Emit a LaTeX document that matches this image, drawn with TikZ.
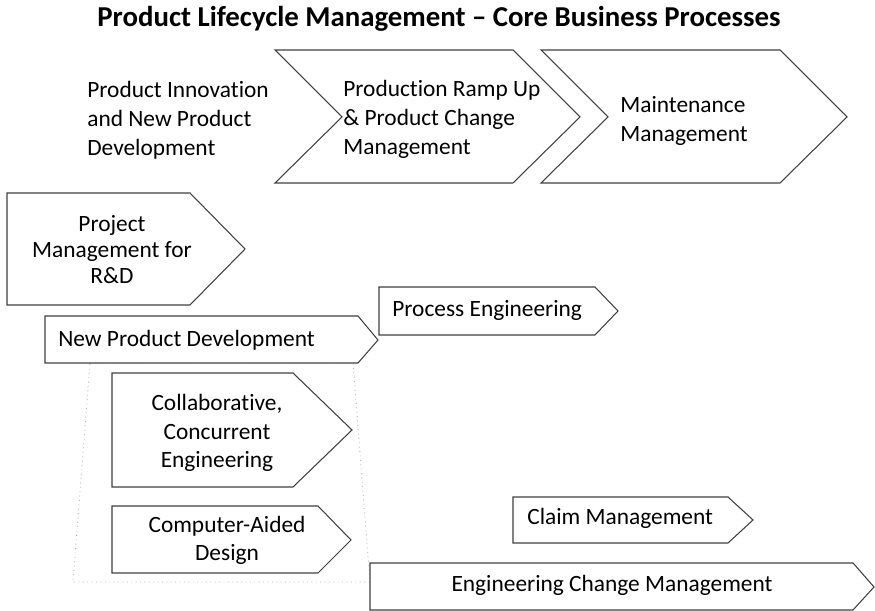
\documentclass[tikz,border=0pt]{standalone}
\usepackage{fontspec}
\setmainfont{Carlito}[Ligatures=NoCommon]
\usepackage{tikz}

\tikzset{
	shp/.style={draw=black!75, fill=white, line width=0.6pt, line join=miter},
	txt/.style={inner sep=0pt, font=\fontsize{13.3pt}{16pt}\selectfont},
	frame/.style={draw=black!30, dotted, line width=0.5pt}
}

\begin{document}
\begin{tikzpicture}
	\useasboundingbox (0,0) rectangle (17.5,12.22);
	% title
	\node [inner sep=0pt, font=\fontsize{16.4pt}{19pt}\selectfont\bfseries] (title) at (8.78,11.85) {Product Lifecycle Management -- Core Business Processes};
	% top row
	\draw [shp] (5.50,11.22) -- (10.26,11.22) -- (11.60,9.88) -- (10.26,8.56) -- (5.50,8.56) -- (6.84,9.88) -- cycle;
	\draw [shp] (10.82,11.22) -- (15.60,11.22) -- (16.94,9.88) -- (15.60,8.56) -- (10.82,8.56) -- (12.16,9.88) -- cycle;
	\node [txt, anchor=west, align=left, font=\fontsize{13.3pt}{16.6pt}\selectfont] (innov) at (1.74,9.82) {Product Innovation\\and New Product\\Development};
	\node [txt, anchor=west, align=left, font=\fontsize{13.3pt}{16.6pt}\selectfont] (rampup) at (6.86,9.83) {Production Ramp Up\\\& Product Change\\Management};
	\node [txt, anchor=west, align=left] (maint) at (12.40,9.80) {Maintenance\\Management};
	% dotted frame behind the sub processes
	\draw [frame] (1.80,4.96) -- (7.06,4.96) -- (7.40,0.58) -- (1.46,0.58) -- cycle;
	% process boxes
	\draw [shp] (0.14,8.36) -- (3.80,8.36) -- (4.90,7.24) -- (3.80,6.12) -- (0.14,6.12) -- cycle;
	\draw [shp] (0.90,5.90) -- (7.16,5.90) -- (7.56,5.42) -- (7.16,4.96) -- (0.90,4.96) -- cycle;
	\draw [shp] (7.58,6.48) -- (11.90,6.48) -- (12.36,6.00) -- (11.90,5.52) -- (7.58,5.52) -- cycle;
	\draw [shp] (2.24,4.76) -- (5.86,4.76) -- (7.04,3.62) -- (5.86,2.48) -- (2.24,2.48) -- cycle;
	\draw [shp] (2.24,2.10) -- (6.36,2.10) -- (7.02,1.42) -- (6.36,0.76) -- (2.24,0.76) -- cycle;
	\draw [shp] (10.26,2.28) -- (14.56,2.28) -- (15.06,1.82) -- (14.56,1.36) -- (10.26,1.36) -- cycle;
	\draw [shp] (7.40,0.96) -- (17.06,0.96) -- (17.48,0.48) -- (17.06,0.02) -- (7.40,0.02) -- cycle;
	% labels
	\node [txt, align=center, font=\fontsize{13.3pt}{14.8pt}\selectfont] (projmgmt) at (2.24,7.22) {Project\\Management for\\R\&D};
	\node [txt, anchor=west] (npd) at (1.16,5.42) {New Product Development};
	\node [txt, anchor=west] (proceng) at (7.84,6.02) {Process Engineering};
	\node [txt, align=center] (collab) at (4.34,3.56) {Collaborative,\\Concurrent\\Engineering};
	\node [txt, align=center] (cad) at (4.54,1.42) {Computer-Aided\\Design};
	\node [txt, anchor=west] (claim) at (10.54,1.86) {Claim Management};
	\node [txt] (ecm) at (12.24,0.52) {Engineering Change Management};
\end{tikzpicture}
\end{document}
